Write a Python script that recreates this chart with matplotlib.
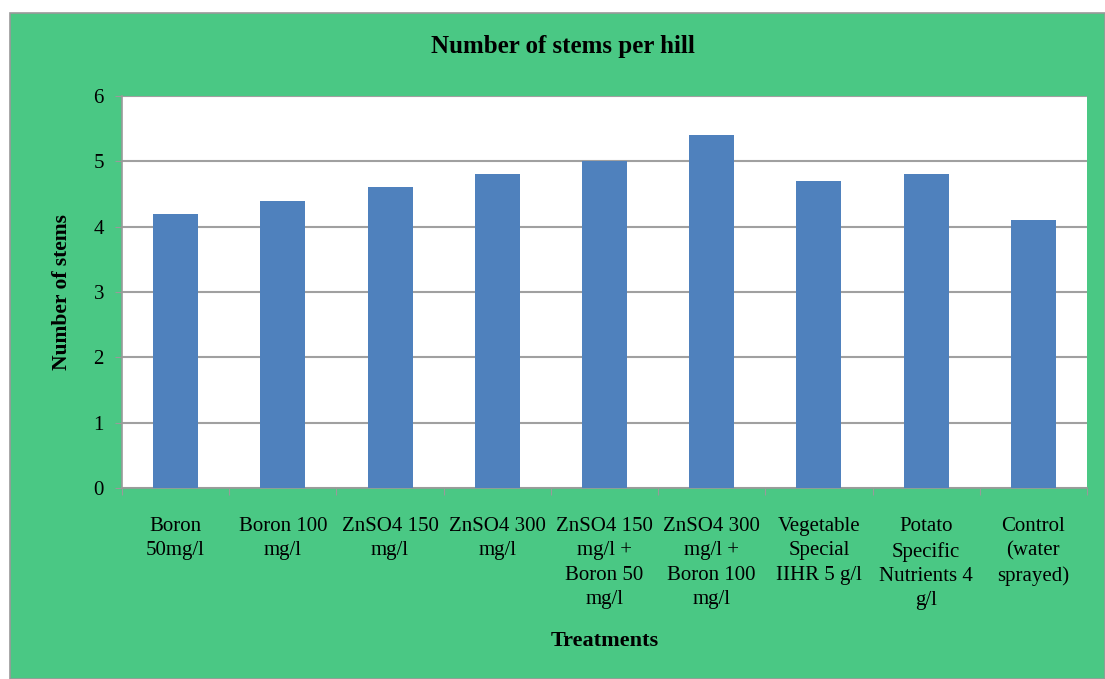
import matplotlib.pyplot as plt
from matplotlib.patches import Rectangle

treatments = ['Boron\n50mg/l', 'Boron 100\nmg/l', 'ZnSO4 150\nmg/l', 'ZnSO4 300\nmg/l',
              'ZnSO4 150\nmg/l +\nBoron 50\nmg/l', 'ZnSO4 300\nmg/l +\nBoron 100\nmg/l',
              'Vegetable\nSpecial\nIIHR 5 g/l', 'Potato\nSpecific\nNutrients 4\ng/l',
              'Control\n(water\nsprayed)']
stems = [4.2, 4.4, 4.6, 4.8, 5.0, 5.4, 4.7, 4.8, 4.1]

plt.rcParams['font.family'] = 'Liberation Serif'
plt.rcParams['font.size'] = 13

green = '#4ac884'
fig = plt.figure(figsize=(11.05, 6.79), dpi=100, facecolor='white')
W, H = 1105, 679
# green chart area with thin grey border
fig.add_artist(Rectangle((10 / W, 0), 1 - 10 / W, 1 - 13 / H, transform=fig.transFigure,
                         facecolor=green, edgecolor='#9a9a9a', linewidth=1.2, zorder=-10))

ax = fig.add_axes([122 / W, 1 - 488 / H, (1087 - 122) / W, (488 - 96) / H])
ax.set_facecolor('white')

x = range(len(stems))
ax.bar(x, stems, width=0.42, color='#4f81bd', zorder=3)

ax.set_ylim(0, 6)
ax.set_xlim(-0.5, len(stems) - 0.5)
ax.set_yticks(range(7))
ax.yaxis.grid(True, color='#a0a0a0', linewidth=1.5, zorder=0)
ax.set_axisbelow(True)

ax.set_xticks([i - 0.5 for i in range(len(stems) + 1)])
ax.set_xticklabels([])
ax.set_xticks(list(x), minor=True)
ax.set_xticklabels(treatments, minor=True, fontsize=15, linespacing=1.38, va='top')
ax.tick_params(axis='x', which='minor', length=0, pad=21)
ax.tick_params(axis='x', which='major', length=5, color='#9a9a9a', direction='out')
ax.tick_params(axis='y', length=5, color='#9a9a9a', labelsize=15, pad=8)

for side in ['top', 'right']:
    ax.spines[side].set_visible(False)
for side in ['left', 'bottom']:
    ax.spines[side].set_color('#9a9a9a')
    ax.spines[side].set_linewidth(1.2)

ax.set_ylabel('Number of stems', fontweight='bold', fontsize=15.5)
ax.yaxis.set_label_coords(-0.052, 0.5)
fig.text(605 / W, 1 - 641 / H, 'Treatments', fontweight='bold', fontsize=16, ha='center', va='center')
fig.text(563 / W, 1 - 47 / H, 'Number of stems per hill', fontweight='bold', fontsize=18, ha='center', va='center')

fig.savefig('out.png', dpi=100, facecolor='white')
